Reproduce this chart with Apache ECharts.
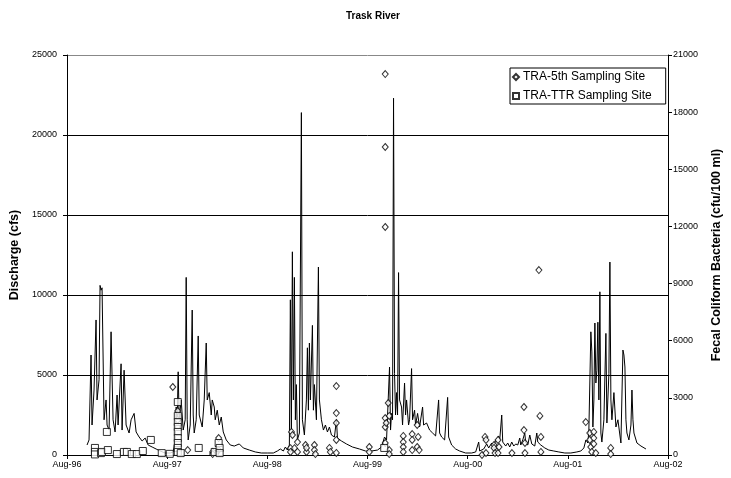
<!DOCTYPE html>
<html><head><meta charset="utf-8">
<script src="https://cdn.jsdelivr.net/npm/echarts@6/dist/echarts.min.js"></script>
<style>html,body{margin:0;padding:0;background:#fff}#c{width:731px;height:478px}</style>
</head><body><div id="c"></div>
<script>
// x values are years since Aug-96
const tickLabels = ['Aug-96','Aug-97','Aug-98','Aug-99','Aug-00','Aug-01','Aug-02'];
const leftTicks = [0,5000,10000,15000,20000,25000];
const rightTicks = [0,3000,6000,9000,12000,15000,18000,21000];

// Discharge (cfs): [year offset, cfs]
const discharge = [
[0.20,625],[0.22,940],[0.24,6250],[0.25,1875],[0.27,4060],[0.29,8440],[0.30,3440],[0.32,4700],[0.33,10600],[0.34,10300],[0.35,10450],[0.37,2200],[0.39,3440],[0.40,1875],[0.42,1560],[0.44,7700],[0.46,2200],[0.48,1440],[0.50,3750],[0.51,1875],[0.54,5700],[0.55,1560],[0.57,5300],[0.59,1875],[0.62,1375],[0.64,2200],[0.67,2600],[0.69,1440],[0.72,1125],[0.75,875],[0.78,1060],[0.81,625],[0.85,500],[0.89,375],[0.93,250],[0.98,125],[1.03,125],[1.06,190],
[1.08,940],[1.09,3000],[1.10,2200],[1.11,5200],[1.12,2200],[1.14,3440],[1.16,1560],[1.18,2200],[1.19,11100],[1.20,2200],[1.21,940],[1.23,1875],[1.25,9060],[1.26,2500],[1.27,1375],[1.29,2200],[1.31,7440],[1.32,2500],[1.35,1750],[1.37,3440],[1.39,7000],[1.40,3440],[1.42,3900],[1.44,2500],[1.45,3440],[1.47,3000],[1.48,2200],[1.50,2800],[1.52,1875],[1.54,2375],[1.56,1440],[1.59,940],[1.63,625],[1.67,560],[1.72,690],[1.76,440],[1.82,310],[1.88,190],[1.94,125],[2.00,125],[2.06,125],
[2.10,250],[2.13,375],[2.16,250],[2.18,500],[2.20,310],[2.22,625],[2.23,9700],[2.24,1560],[2.25,12700],[2.26,3440],[2.27,11100],[2.28,2200],[2.29,4400],[2.30,940],[2.32,1375],[2.34,21400],[2.35,2200],[2.37,1250],[2.39,3440],[2.40,6700],[2.41,2800],[2.42,7000],[2.43,3440],[2.45,8100],[2.46,2800],[2.47,4400],[2.49,2200],[2.51,11750],[2.52,3440],[2.54,2200],[2.56,1560],[2.58,1875],[2.60,1440],[2.62,1750],[2.64,1250],[2.67,1125],[2.69,2200],[2.70,1060],[2.74,875],[2.79,690],[2.85,500],[2.92,375],[2.98,250],[3.04,250],[3.10,310],
[3.14,500],[3.17,1125],[3.19,940],[3.22,5500],[3.23,1560],[3.24,2600],[3.25,2200],[3.26,22300],[3.27,5100],[3.28,2500],[3.29,3900],[3.30,2500],[3.31,11400],[3.32,3440],[3.34,3000],[3.35,1875],[3.37,4500],[3.38,2500],[3.39,3440],[3.41,1875],[3.42,2200],[3.44,5400],[3.45,2200],[3.47,2800],[3.48,1875],[3.50,2600],[3.52,1750],[3.55,3000],[3.56,1875],[3.59,2000],[3.62,1560],[3.65,1375],[3.68,1190],[3.71,3440],[3.72,1375],[3.74,1125],[3.77,940],[3.80,3600],[3.81,1125],[3.84,625],[3.88,375],[3.92,250],[3.98,125],[4.04,125],[4.08,190],
[4.11,810],[4.12,250],[4.16,375],[4.19,690],[4.21,440],[4.24,750],[4.26,560],[4.28,940],[4.31,1190],[4.32,940],[4.34,2500],[4.35,810],[4.38,560],[4.40,750],[4.42,500],[4.44,810],[4.46,560],[4.48,690],[4.50,625],[4.52,1060],[4.53,625],[4.55,940],[4.57,1375],[4.58,750],[4.60,625],[4.62,1250],[4.64,690],[4.67,560],[4.69,1375],[4.70,810],[4.73,625],[4.77,440],[4.81,310],[4.86,250],[4.91,190],[4.97,125],[5.03,125],[5.09,190],
[5.13,250],[5.16,440],[5.18,940],[5.20,750],[5.21,1560],[5.23,7700],[5.24,6440],[5.25,1750],[5.26,3440],[5.27,8250],[5.28,4500],[5.29,5300],[5.30,8300],[5.31,3440],[5.32,10200],[5.33,1375],[5.34,810],[5.36,2200],[5.38,7600],[5.39,2000],[5.41,5100],[5.42,12060],[5.43,3440],[5.44,2200],[5.46,3900],[5.48,1750],[5.50,2200],[5.53,750],[5.55,6560],[5.56,6250],[5.57,5500],[5.58,2200],[5.59,1375],[5.61,940],[5.63,1875],[5.64,4060],[5.65,2200],[5.66,1375],[5.69,750],[5.73,560],[5.78,375]
];

// Fecal coliform (cfu/100 ml), TRA-5th site
const site5th = [
[1.056,3570],[1.105,2310],[1.105,1840],[1.105,1470],[1.205,260],[1.454,160],[1.454,50],[1.514,890],[1.514,260],
[2.231,360],[2.231,160],[2.241,1210],[2.251,1050],[2.271,360],[2.301,680],[2.301,160],[2.381,525],[2.391,160],[2.391,370],[2.470,525],[2.470,260],[2.480,50],[2.620,370],[2.629,160],[2.689,3620],[2.689,2200],[2.689,1680],[2.689,790],[2.689,110],
[3.018,420],[3.018,160],[3.177,20000],[3.177,16170],[3.177,11970],[3.177,1470],[3.177,1940],[3.177,630],[3.187,1680],[3.207,2730],[3.217,2050],[3.217,260],[3.217,50],[3.357,1000],[3.357,680],[3.357,420],[3.357,160],[3.446,1100],[3.446,790],[3.446,260],[3.496,1575],[3.496,420],[3.506,950],[3.516,260],
[4.143,0],[4.173,950],[4.183,790],[4.183,100],[4.263,525],[4.263,370],[4.273,100],[4.303,790],[4.303,100],[4.313,420],[4.442,100],[4.562,2520],[4.562,1310],[4.572,630],[4.572,100],[4.711,9710],[4.721,2050],[4.731,950],[4.731,160],
[5.179,1730],[5.219,1155],[5.219,790],[5.229,420],[5.239,160],[5.259,1210],[5.259,890],[5.259,580],[5.279,100],[5.428,370],[5.428,50]
];

// Fecal coliform (cfu/100 ml), TRA-TTR site
const siteTTR = [
[0.279,370],[0.279,160],[0.279,30],[0.339,100],[0.349,160],[0.398,1210],[0.408,260],[0.498,50],[0.568,160],[0.598,160],[0.647,50],[0.697,50],[0.757,210],[0.837,790],[0.946,100],[1.026,60],
[1.106,2780],[1.106,2050],[1.106,1730],[1.106,1470],[1.106,1210],[1.106,890],[1.106,630],[1.106,370],[1.106,160],[1.135,100],[1.315,370],[1.474,160],[1.514,630],[1.524,370],[1.524,100],
[3.167,370]
];

const font = 'Liberation Sans, Arial, sans-serif';
const chart = echarts.init(document.getElementById('c'), null, {renderer:'canvas'});
chart.setOption({
  animation:false,
  backgroundColor:'#fff',
  title:{text:'Trask River', left:368, textAlign:'center', top:6,
    textStyle:{fontFamily:font, fontSize:10, fontWeight:'bold', color:'#000'}},
  legend:{
    orient:'vertical', left:510, top:68,
    borderColor:'#000', borderWidth:1, padding:[3,14,2,2], itemGap:7,
    itemWidth:6, itemHeight:6, backgroundColor:'#fff',
    textStyle:{fontFamily:font, fontSize:12, color:'#000', padding:[0,0,0,-1]},
    data:[{name:'TRA-5th Sampling Site', icon:'diamond'},{name:'TRA-TTR Sampling Site', icon:'rect'}]
  },
  grid:{left:67, right:62, top:55, bottom:23},
  xAxis:{type:'value', min:0, max:6, interval:1,
    axisLine:{show:true, lineStyle:{color:'#000', width:1}},
    axisTick:{show:true, length:4, lineStyle:{color:'#000'}},
    axisLabel:{fontFamily:font, fontSize:9, color:'#000', margin:5,
      formatter:function(v){return tickLabels[Math.round(v)]||'';}},
    splitLine:{show:false}},
  yAxis:[
    {type:'value', min:leftTicks[0], max:leftTicks[leftTicks.length-1], interval:5000,
      name:'Discharge (cfs)', nameLocation:'middle', nameGap:44,
      nameTextStyle:{fontFamily:font, fontSize:12.5, fontWeight:'bold', color:'#000'},
      axisLine:{show:true, lineStyle:{color:'#000'}},
      axisTick:{show:true, length:4, lineStyle:{color:'#000'}},
      axisLabel:{fontFamily:font, fontSize:9, color:'#000', margin:10, formatter:function(v){return String(v);}},
      splitLine:{show:true, lineStyle:{color:['#000','#000','#000','#000','#000','#888'], width:1}}},
    {type:'value', min:rightTicks[0], max:rightTicks[rightTicks.length-1], interval:3000, position:'right',
      name:'Fecal Coliform Bacteria (cfu/100 ml)', nameLocation:'middle', nameGap:42, nameRotate:90,
      nameTextStyle:{fontFamily:font, fontSize:12.5, fontWeight:'bold', color:'#000'},
      axisLine:{show:true, lineStyle:{color:'#000'}},
      axisTick:{show:true, length:4, lineStyle:{color:'#000'}},
      axisLabel:{fontFamily:font, fontSize:9, color:'#000', margin:5, formatter:function(v){return String(v);}},
      splitLine:{show:false}}
  ],
  series:[
    {name:'Discharge', type:'line', yAxisIndex:0, data:discharge, showSymbol:false, symbol:'none',
      lineStyle:{color:'#000', width:1}, z:2},
    {name:'TRA-5th Sampling Site', type:'scatter', yAxisIndex:1, data:site5th, symbol:'diamond', symbolSize:[6,7],
      itemStyle:{color:'#fff', borderColor:'#000', borderWidth:1}, z:3},
    {name:'TRA-TTR Sampling Site', type:'scatter', yAxisIndex:1, data:siteTTR, symbol:'rect', symbolSize:7,
      itemStyle:{color:'#fff', borderColor:'#000', borderWidth:1}, z:3}
  ]
});
</script></body></html>
